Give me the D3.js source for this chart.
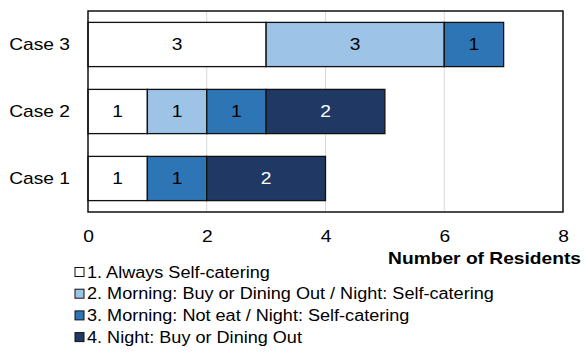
<!DOCTYPE html>
<html>
<head>
<meta charset="utf-8">
<script src="https://cdn.jsdelivr.net/npm/d3@7"></script>
<style>
  body { margin: 0; background: #fff; }
  svg { display: block; font-family: "Liberation Sans", Arial, sans-serif; }
</style>
</head>
<body>
<svg id="chart" width="584" height="361"></svg>
<script>
// Residents per meal pattern, for each case
const cases = ["Case 3", "Case 2", "Case 1"];
const seriesNames = [
  "1. Always Self-catering",
  "2. Morning: Buy or Dining Out / Night: Self-catering",
  "3. Morning: Not eat / Night: Self-catering",
  "4. Night: Buy or Dining Out"
];
const alwaysSelf   = [3, 1, 1];
const morningBuy   = [3, 1, 0];
const morningNone  = [1, 1, 1];
const nightBuy     = [0, 2, 2];
const xTicks = [0, 2, 4, 6, 8];
const colors = ["#ffffff", "#9dc3e6", "#2e75b6", "#203864"];
const labelColors = ["#000", "#000", "#000", "#fff"];

(function draw() {
  const FS = 16;          // font size
  const SX = 1.2;         // horizontal text stretch
  const LSX = 1.13;       // horizontal stretch for legend entries
  const rows = cases.map((c, i) => ({
    case: c,
    s0: alwaysSelf[i], s1: morningBuy[i], s2: morningNone[i], s3: nightBuy[i]
  }));
  const keys = ["s0", "s1", "s2", "s3"];
  const stacked = d3.stack().keys(keys)(rows);

  const svg = d3.select("#chart");
  const plotL = 88, plotR = 563, plotT = 11, plotB = 212;

  const x = d3.scaleLinear().domain([0, 8]).range([plotL, plotR]);
  const y = d3.scaleBand().domain(cases).range([plotT, plotB]).paddingInner(0.34).paddingOuter(0.17);

  // vertical gridlines
  svg.append("g").selectAll("line").data(xTicks.slice(1, -1)).join("line")
    .attr("x1", d => x(d)).attr("x2", d => x(d))
    .attr("y1", plotT).attr("y2", plotB)
    .attr("stroke", "#d9d9d9").attr("stroke-width", 1);

  // stacked bars
  const layer = svg.append("g").selectAll("g").data(stacked).join("g")
    .attr("fill", (d, i) => colors[i]);
  layer.selectAll("rect").data(d => d.filter(p => p[1] - p[0] > 0)).join("rect")
    .attr("x", p => x(p[0]))
    .attr("y", p => y(p.data.case))
    .attr("width", p => x(p[1]) - x(p[0]))
    .attr("height", y.bandwidth())
    .attr("stroke", "#111").attr("stroke-width", 1.3);

  // value labels
  stacked.forEach((s, i) => {
    svg.append("g").selectAll("text").data(s.filter(p => p[1] - p[0] > 0)).join("text")
      .attr("transform", p => `translate(${(x(p[0]) + x(p[1])) / 2},${y(p.data.case) + y.bandwidth() / 2}) scale(${SX},1)`)
      .attr("dy", "0.36em")
      .attr("text-anchor", "middle")
      .attr("font-size", FS)
      .attr("fill", labelColors[i])
      .text(p => p[1] - p[0]);
  });

  // plot frame
  svg.append("rect")
    .attr("x", plotL).attr("y", plotT)
    .attr("width", plotR - plotL).attr("height", plotB - plotT)
    .attr("fill", "none").attr("stroke", "#111").attr("stroke-width", 1.5);

  // x axis
  const xAxis = svg.append("g").attr("transform", `translate(0,${plotB})`)
    .call(d3.axisBottom(x).tickValues(xTicks).tickSize(0).tickPadding(19));
  xAxis.select(".domain").remove();
  xAxis.selectAll("text")
    .attr("font-size", FS).attr("fill", "#000")
    .attr("font-family", "Liberation Sans, Arial, sans-serif")
    .attr("transform", `scale(${SX},1)`);

  // y axis
  const yAxis = svg.append("g").attr("transform", `translate(${plotL},0)`)
    .call(d3.axisLeft(y).tickSize(0));
  yAxis.select(".domain").remove();
  yAxis.selectAll("text")
    .attr("x", -18 / SX)
    .attr("font-size", FS).attr("fill", "#000")
    .attr("font-family", "Liberation Sans, Arial, sans-serif")
    .attr("transform", `scale(${SX},1)`);

  // axis title
  svg.append("text")
    .attr("transform", `translate(581,264) scale(${SX},1)`)
    .attr("text-anchor", "end")
    .attr("font-size", FS).attr("font-weight", "bold")
    .text("Number of Residents");

  // legend
  const legend = svg.append("g").selectAll("g").data(seriesNames).join("g")
    .attr("transform", (d, i) => `translate(75,${272 + i * 21.7})`);
  legend.append("rect")
    .attr("x", 0).attr("y", -4.5).attr("width", 9).attr("height", 9)
    .attr("fill", (d, i) => colors[i]).attr("stroke", "#111").attr("stroke-width", 1);
  legend.append("text")
    .attr("transform", `translate(12,0) scale(${LSX},1)`)
    .attr("dy", "0.36em")
    .attr("font-size", FS)
    .text(d => d);
})();
</script>
</body>
</html>
